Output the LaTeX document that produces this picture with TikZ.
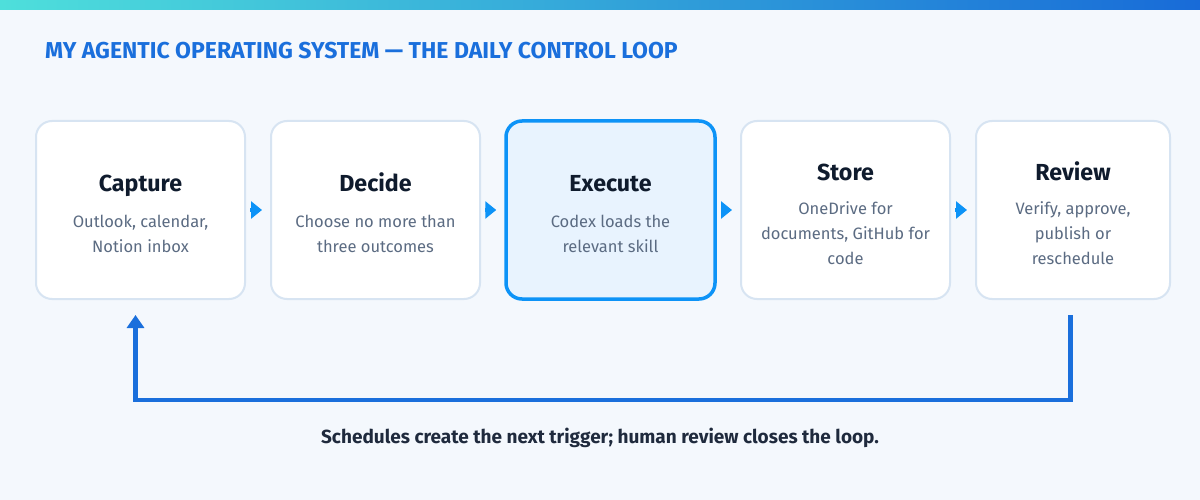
\documentclass[tikz,border=0pt]{standalone}
\usepackage{fontspec}
\setmainfont{Fira Sans}
\usetikzlibrary{arrows.meta}
\definecolor{bg}{HTML}{F4F8FD}
\definecolor{barA}{HTML}{4EDFDB}
\definecolor{barB}{HTML}{0A91F5}
\definecolor{barC}{HTML}{186BD8}
\definecolor{titleblue}{HTML}{1A6FDC}
\definecolor{boxline}{HTML}{D7E4F2}
\definecolor{activefill}{HTML}{E8F3FE}
\definecolor{activeline}{HTML}{0D93F7}
\definecolor{headtxt}{HTML}{0F1B2D}
\definecolor{desctxt}{HTML}{5B6B82}
\definecolor{captxt}{HTML}{1F2A3D}
\tikzset{
  stagebox/.style={draw=boxline, line width=2pt, fill=white, rounded corners=16pt,
    minimum width=209pt, minimum height=178pt, inner sep=0pt},
  activebox/.style={stagebox, draw=activeline, fill=activefill, line width=3.5pt},
  headtext/.style={anchor=base, inner sep=0pt, text=headtxt,
    font=\fontsize{23.2}{27}\selectfont\bfseries},
  desctext/.style={anchor=north, inner sep=0pt, text=desctxt, align=center,
    font=\fontsize{16.5}{25}\selectfont},
  flowarrow/.style={draw=activeline, line width=4.5pt, -{Triangle[length=11pt,width=17pt]}, shorten >=0pt},
  loopline/.style={draw=titleblue, line width=4.5pt, line join=miter,
    -{Triangle[length=13pt,width=17pt]}},
}
\begin{document}
\begin{tikzpicture}[x=1pt,y=-1pt]
\useasboundingbox (0,0) rectangle (1200,500);
\fill[bg] (0,0) rectangle (1200,500);
\shade[left color=barA, middle color=barB, right color=barC] (0,0) rectangle (1200,10);
\node[anchor=base west, inner sep=0pt, text=titleblue, font=\fontsize{23}{27}\selectfont\bfseries]
  (title) at (45,59) {MY AGENTIC OPERATING SYSTEM — THE DAILY CONTROL LOOP};

% boxes
\node[stagebox] (capture) at (140.5,210) {};
\node[stagebox] (decide) at (375.5,210) {};
\node[activebox] (execute) at (610.5,210) {};
\node[stagebox] (store) at (845.5,210) {};
\node[stagebox, minimum width=194pt] (review) at (1073,210) {};

% headings and descriptions
\node[headtext] (capture-h) at (140.5,192) {Capture};
\node[desctext] (capture-d) at (140.5,209.5) {\strut Outlook, calendar,\\Notion inbox};
\node[headtext] (decide-h) at (375.5,192) {Decide};
\node[desctext] (decide-d) at (375.5,209.5) {\strut Choose no more than\\three outcomes};
\node[headtext] (execute-h) at (610.5,192) {Execute};
\node[desctext] (execute-d) at (610.5,209.5) {\strut Codex loads the\\relevant skill};
\node[headtext] (store-h) at (845.5,180) {Store};
\node[desctext] (store-d) at (845.5,196.5) {\strut OneDrive for\\documents, GitHub for\\code};
\node[headtext] (review-h) at (1073,180) {Review};
\node[desctext] (review-d) at (1073,196.5) {\strut Verify, approve,\\publish or\\reschedule};

% flow arrows
\draw[flowarrow] ([xshift=4pt]capture.east) -- ([xshift=-8pt]decide.west);
\draw[flowarrow] ([xshift=4pt]decide.east) -- ([xshift=-8pt]execute.west);
\draw[flowarrow] ([xshift=4pt]execute.east) -- ([xshift=-8pt]store.west);
\draw[flowarrow] ([xshift=4pt]store.east) -- ([xshift=-8pt]review.west);

% return loop
\coordinate (loopstart) at (1070.5,315);
\coordinate (loopend) at (135.5,315);
\draw[loopline] (loopstart) -- (1070.5,400) -- (135.5,400) -- (loopend);

\node[anchor=base, inner sep=0pt, text=captxt, font=\fontsize{19}{22}\selectfont\bfseries]
  (caption) at (600,443) {Schedules create the next trigger; human review closes the loop.};
\end{tikzpicture}
\end{document}
